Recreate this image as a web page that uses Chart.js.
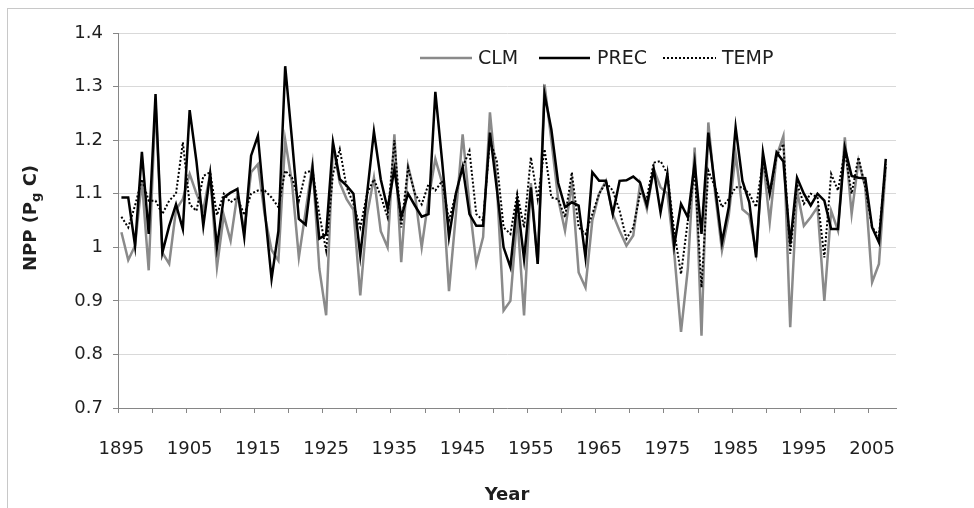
<!DOCTYPE html>
<html>
<head>
<meta charset="utf-8">
<title>NPP 1895-2007</title>
<script src="https://cdn.jsdelivr.net/npm/chart.js@4.4.0/dist/chart.umd.min.js"></script>
<style>
    html, body { margin: 0; padding: 0; background: #fff; }
    #wrap { position: relative; width: 974px; height: 508px; }
    canvas { display: block; }
</style>
</head>
<body>
<div id="wrap"><canvas id="nppChart" width="974" height="508"></canvas></div>
<script>
// Annual NPP (Pg C), one value per year starting at firstYear
const firstYear = 1895;

const clm = [
    1.028, 0.976, 1.003, 1.125, 0.957, 1.27, 0.99, 0.969, 1.07, 1.09,
    1.137, 1.1, 1.07, 1.137, 0.963, 1.06, 1.012, 1.1, 1.031, 1.14,
    1.155, 1.06, 0.995, 0.975, 1.2, 1.12, 0.981, 1.068, 1.155, 0.96,
    0.873, 1.19, 1.12, 1.09, 1.07, 0.91, 1.06, 1.13, 1.03, 1.0,
    1.211, 0.972, 1.152, 1.1, 1.0, 1.09, 1.165, 1.12, 0.918, 1.06,
    1.211, 1.08, 0.969, 1.019, 1.252, 1.12, 0.882, 0.9, 1.06, 0.873,
    1.12, 0.969, 1.304, 1.2, 1.09, 1.031, 1.12, 0.953, 0.925, 1.05,
    1.1, 1.124, 1.062, 1.031, 1.003, 1.022, 1.118, 1.071, 1.146, 1.112,
    1.1, 0.99, 0.842, 0.96, 1.186, 0.835, 1.233, 1.1, 0.994, 1.06,
    1.174, 1.071, 1.06, 0.99, 1.168, 1.047, 1.17, 1.208, 0.851, 1.106,
    1.04, 1.056, 1.075, 0.9, 1.068, 1.031, 1.205, 1.062, 1.161, 1.112,
    0.935, 0.969, 1.15
];

const prec = [
    1.093, 1.093, 1.003, 1.178, 1.025, 1.286, 0.99, 1.04, 1.08, 1.034,
    1.256, 1.16, 1.04, 1.137, 1.0, 1.093, 1.102, 1.109, 1.019, 1.171,
    1.208, 1.07, 0.941, 1.03, 1.338, 1.2, 1.053, 1.042, 1.148, 1.016,
    1.024, 1.196, 1.127, 1.115, 1.1, 0.984, 1.1, 1.216, 1.127, 1.072,
    1.146, 1.056, 1.1, 1.078, 1.057, 1.062, 1.29, 1.16, 1.019, 1.1,
    1.15, 1.062, 1.04, 1.04, 1.214, 1.11, 1.0, 0.963, 1.087, 0.978,
    1.112, 0.969, 1.286, 1.22, 1.12, 1.075, 1.084, 1.078, 0.981, 1.14,
    1.124, 1.124, 1.062, 1.124, 1.125, 1.132, 1.121, 1.078, 1.146, 1.065,
    1.137, 1.003, 1.081, 1.056, 1.158, 1.025, 1.214, 1.112, 1.009, 1.075,
    1.224, 1.124, 1.084, 0.981, 1.177, 1.1, 1.177, 1.16, 1.006, 1.13,
    1.1, 1.078, 1.1, 1.087, 1.034, 1.034, 1.186, 1.133, 1.13, 1.129,
    1.037, 1.009, 1.165
];

const temp = [
    1.057, 1.037, 1.078, 1.127, 1.087, 1.087, 1.062, 1.087, 1.1, 1.196,
    1.08, 1.068, 1.133, 1.14, 1.06, 1.1, 1.084, 1.093, 1.06, 1.1,
    1.106, 1.106, 1.093, 1.075, 1.143, 1.13, 1.087, 1.14, 1.143, 1.062,
    0.994, 1.137, 1.183, 1.112, 1.081, 1.037, 1.1, 1.127, 1.096, 1.056,
    1.2, 1.037, 1.149, 1.1, 1.08, 1.118, 1.106, 1.124, 1.05, 1.1,
    1.15, 1.18, 1.062, 1.05, 1.2, 1.161, 1.037, 1.025, 1.1, 1.037,
    1.168, 1.09, 1.183, 1.093, 1.09, 1.056, 1.14, 1.037, 1.025, 1.062,
    1.1, 1.121, 1.106, 1.068, 1.016, 1.037, 1.1, 1.093, 1.158, 1.161,
    1.137, 1.03, 0.95, 1.05, 1.143, 0.925, 1.143, 1.112, 1.075, 1.09,
    1.112, 1.112, 1.1, 1.075, 1.161, 1.1, 1.17, 1.193, 0.988, 1.118,
    1.081, 1.1, 1.093, 0.981, 1.137, 1.106, 1.18, 1.1, 1.168, 1.112,
    1.037, 1.022, 1.155
];

const yTicks = [0.7, 0.8, 0.9, 1.0, 1.1, 1.2, 1.3, 1.4];
const xLabelYears = [1895, 1905, 1915, 1925, 1935, 1945, 1955, 1965, 1975, 1985, 1995, 2005];
const seriesNames = ['CLM', 'PREC', 'TEMP'];

const years = clm.map((_, i) => firstYear + i);
const toPoints = arr => arr.map((v, i) => ({ x: years[i], y: v }));

// category-style axis: each year sits in the middle of a 1-year slot
const xMin = firstYear - 0.5;
const xMax = firstYear + 113.5;

const FONT = '"DejaVu Sans", sans-serif';
const TEXT = '#1e1e1e';
const AXIS = '#868686';
const GRID = '#d9d9d9';

// legend drawn inside the plot, line sample followed by the name
const inlineLegend = {
    id: 'inlineLegend',
    afterDraw(chart) {
        const ctx = chart.ctx;
        const y = 58;
        const items = [
            { line: [420, 472], text: 478 },
            { line: [539, 590], text: 597 },
            { line: [663, 716], text: 722 }
        ];
        ctx.save();
        ctx.font = '19px ' + FONT;
        ctx.textBaseline = 'middle';
        ctx.fillStyle = TEXT;
        chart.data.datasets.forEach((ds, i) => {
            const it = items[i];
            ctx.beginPath();
            ctx.strokeStyle = ds.borderColor;
            ctx.lineWidth = ds.borderWidth;
            ctx.setLineDash(ds.borderDash || []);
            ctx.moveTo(it.line[0], y);
            ctx.lineTo(it.line[1], y);
            ctx.stroke();
            ctx.setLineDash([]);
            ctx.fillText(ds.label, it.text, y + 1);
        });
        ctx.restore();
    }
};

// axis titles (with subscript g) and the outer frame
const axisTitles = {
    id: 'axisTitles',
    afterDraw(chart) {
        const ctx = chart.ctx;
        ctx.save();
        ctx.strokeStyle = '#c8c8c8';
        ctx.lineWidth = 1;
        ctx.strokeRect(7.5, 8.5, 1000, 600);

        ctx.fillStyle = TEXT;
        ctx.font = 'bold 18px ' + FONT;
        ctx.textAlign = 'center';
        ctx.textBaseline = 'alphabetic';
        ctx.fillText('Year', 507, 500);

        const parts = [
            { t: 'NPP (P', f: 'bold 18px ' + FONT, dy: 0 },
            { t: 'g', f: 'bold 13px ' + FONT, dy: 4 },
            { t: ' C)', f: 'bold 18px ' + FONT, dy: 0 }
        ];
        let total = 0;
        parts.forEach(p => { ctx.font = p.f; p.w = ctx.measureText(p.t).width; total += p.w; });
        ctx.translate(36, 218);
        ctx.rotate(-Math.PI / 2);
        ctx.textAlign = 'left';
        let x = -total / 2;
        parts.forEach(p => {
            ctx.font = p.f;
            ctx.fillText(p.t, x, p.dy);
            x += p.w;
        });
        ctx.restore();
    }
};

const chart = new Chart(document.getElementById('nppChart'), {
    type: 'line',
    data: {
        datasets: [
            {
                label: seriesNames[0],
                data: toPoints(clm),
                borderColor: '#8a8a8a',
                borderWidth: 2.5,
                order: 3
            },
            {
                label: seriesNames[1],
                data: toPoints(prec),
                borderColor: '#000000',
                borderWidth: 2.5,
                order: 2
            },
            {
                label: seriesNames[2],
                data: toPoints(temp),
                borderColor: '#000000',
                borderWidth: 2,
                borderDash: [2, 2],
                order: 1
            }
        ]
    },
    options: {
        responsive: false,
        devicePixelRatio: 1,
        animation: false,
        layout: { padding: { top: 33, right: 78, left: 0, bottom: 0 } },
        elements: {
            point: { radius: 0 },
            line: { tension: 0, fill: false, borderCapStyle: 'butt', borderJoinStyle: 'miter' }
        },
        plugins: {
            legend: { display: false },
            tooltip: { enabled: false }
        },
        scales: {
            x: {
                type: 'linear',
                min: xMin,
                max: xMax,
                afterBuildTicks(scale) {
                    const ticks = [];
                    for (let v = xMin; v < xMax; v += 5) ticks.push({ value: v });
                    scale.ticks = ticks;
                },
                afterFit(scale) { scale.height = 100; },
                border: { color: AXIS, width: 1 },
                grid: {
                    drawOnChartArea: false,
                    drawTicks: true,
                    tickLength: 5,
                    tickColor: AXIS
                },
                ticks: {
                    autoSkip: false,
                    maxRotation: 0,
                    padding: 26,
                    labelOffset: 3.4,
                    color: TEXT,
                    font: { family: FONT, size: 18 },
                    callback(value) {
                        const yr = value + 0.5;
                        return xLabelYears.includes(yr) ? String(yr) : '';
                    }
                }
            },
            y: {
                min: 0.7,
                max: 1.4,
                afterBuildTicks(scale) {
                    scale.ticks = yTicks.map(v => ({ value: v }));
                },
                afterFit(scale) { scale.width = 118; },
                border: { color: AXIS, width: 1 },
                grid: {
                    color: GRID,
                    lineWidth: 1,
                    drawTicks: true,
                    tickLength: 5,
                    tickColor: AXIS
                },
                ticks: {
                    padding: 10,
                    color: TEXT,
                    font: { family: FONT, size: 18 },
                    callback(value) { return String(Math.round(value * 10) / 10); }
                }
            }
        }
    },
    plugins: [inlineLegend, axisTitles]
});
</script>
</body>
</html>
